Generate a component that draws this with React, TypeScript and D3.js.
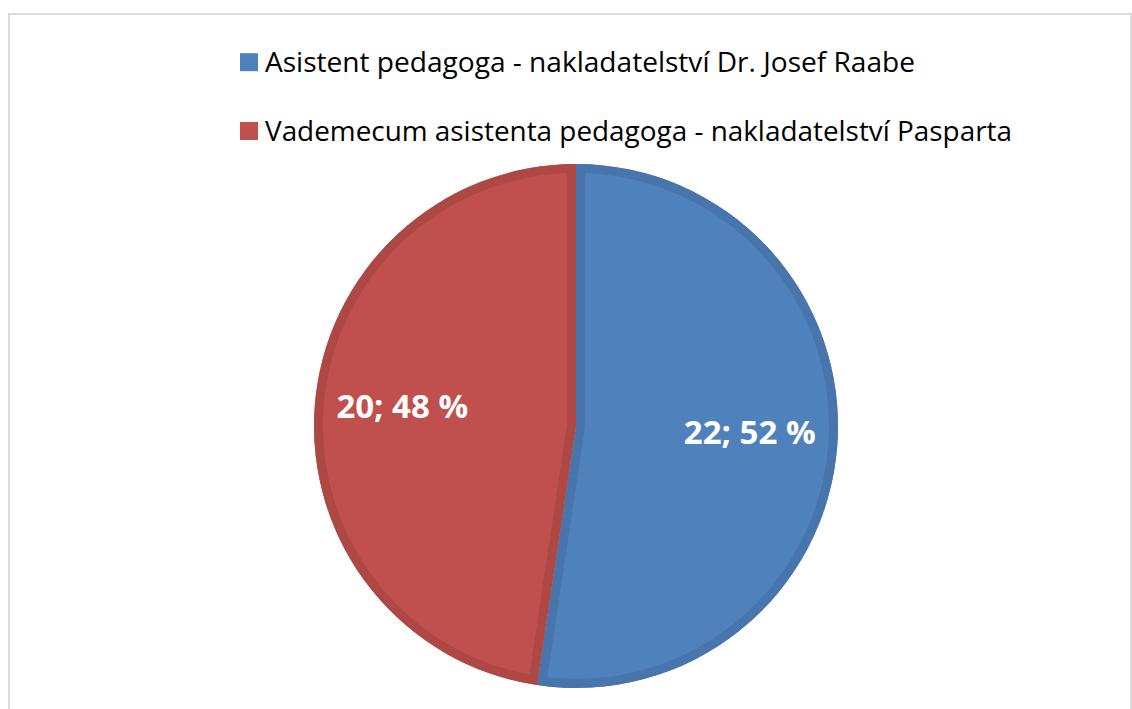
import React from "react";
import * as d3 from "d3";

const categories = [
  "Asistent pedagoga - nakladatelství Dr. Josef Raabe",
  "Vademecum asistenta pedagoga - nakladatelství Pasparta",
];
const values = [22, 20];
const percentLabels = ["52 %", "48 %"];
const fillColors = ["#4F81BD", "#C0504D"];
const edgeColors = ["#4775AC", "#AE4845"];

export default function App() {
  const W = 1132;
  const H = 709;
  const cx = 576;
  const cy = 426;
  const r = 262;
  const pie = d3.pie<number>().sort(null).value((d) => d)(values);
  const arc = d3.arc<d3.PieArcDatum<number>>().innerRadius(0).outerRadius(r);
  const labelArc = d3.arc<d3.PieArcDatum<number>>().innerRadius(r * 0.665).outerRadius(r * 0.665);
  const legendBase = [71.7, 140.5];
  const legendLen = [650, 747];
  return (
    <svg width={W} height={H} style={{ position: "absolute", left: 0, top: 0 }}>
      <rect x={0} y={0} width={W} height={H} fill="#fff" />
      <rect x={9} y={14} width={1122} height={720} fill="#fff" stroke="#d9d9d9" strokeWidth={2} />
      {categories.map((c, i) => (
        <g key={c}>
          <rect x={240} y={legendBase[i] - 18.5} width={18} height={18} fill={fillColors[i]} />
          <text
            x={265}
            y={legendBase[i]}
            textLength={legendLen[i]}
            lengthAdjust="spacingAndGlyphs"
            fontFamily="'Open Sans', sans-serif"
            fontSize={26.5}
            fill="#000"
          >
            {c}
          </text>
        </g>
      ))}
      <defs>
        {pie.map((p, i) => (
          <clipPath id={`clip${i}`} key={i}>
            <path d={arc(p) || ""} />
          </clipPath>
        ))}
      </defs>
      <g transform={`translate(${cx},${cy})`}>
        {pie.map((p, i) => (
          <g key={i}>
            <path d={arc(p) || ""} fill={fillColors[i]} />
            <path
              d={arc(p) || ""}
              fill="none"
              stroke={edgeColors[i]}
              strokeWidth={18}
              clipPath={`url(#clip${i})`}
            />
          </g>
        ))}
        {pie.map((p, i) => {
          const [lx, ly] = labelArc.centroid(p);
          return (
            <text
              key={i}
              x={lx}
              y={ly + 5}
              textAnchor="middle"
              fontFamily="'Open Sans', sans-serif"
              fontWeight="bold"
              fontSize={33}
              fill="#fff"
            >
              {`${values[i]}; ${percentLabels[i]}`}
            </text>
          );
        })}
      </g>
    </svg>
  );
}
